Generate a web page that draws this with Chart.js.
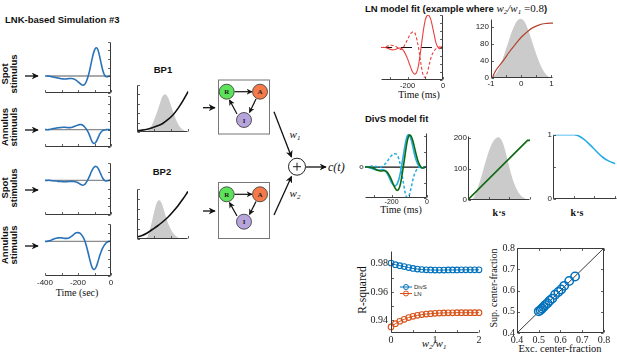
<!DOCTYPE html>
<html><head><meta charset="utf-8">
<script src="https://cdn.jsdelivr.net/npm/chart.js"></script>
<style>
html,body{margin:0;padding:0;background:#fff;width:617px;height:355px;overflow:hidden;position:relative;font-family:'Liberation Sans',Arial,sans-serif;color:#111;}
.t{position:absolute;white-space:nowrap;transform:translate(-50%,-50%);}
.l{position:absolute;white-space:nowrap;transform:translate(0,-50%);}
.b{font-weight:bold;font-size:9.5px;}
.s{font-family:'Liberation Serif','Times New Roman',serif;}
.rot{transform:translate(-50%,-50%) rotate(-90deg);text-align:center;}
.m{font-family:'Liberation Serif','Times New Roman',serif;font-style:italic;}
sub{font-size:7px;vertical-align:-2px;}
canvas{display:block}
</style></head><body>
<svg width="617" height="355" style="position:absolute;left:0;top:0">
<defs>
<marker id="ah" viewBox="0 0 10 10" refX="9" refY="5" markerWidth="7" markerHeight="7" orient="auto" markerUnits="userSpaceOnUse"><path d="M0,0 L10,5 L0,10 L3,5 z" fill="#111"/></marker>
<marker id="ahs" viewBox="0 0 10 10" refX="9" refY="5" markerWidth="6" markerHeight="6" orient="auto" markerUnits="userSpaceOnUse"><path d="M0,0 L10,5 L0,10 L3,5 z" fill="#111"/></marker>
</defs>
<g stroke="#111" stroke-width="1.3" fill="none">
<line x1="25" y1="76" x2="38" y2="76" marker-end="url(#ah)"/>
<line x1="25" y1="130" x2="38" y2="130" marker-end="url(#ah)"/>
<line x1="25" y1="190" x2="38" y2="190" marker-end="url(#ah)"/>
<line x1="25" y1="246" x2="38" y2="246" marker-end="url(#ah)"/>
<line x1="203" y1="107.7" x2="215" y2="107.7" marker-end="url(#ah)"/>
<line x1="203" y1="211" x2="215" y2="211" marker-end="url(#ah)"/>
<line x1="274" y1="111.7" x2="291.5" y2="157" marker-end="url(#ah)"/>
<line x1="274" y1="215" x2="291.5" y2="176.5" marker-end="url(#ah)"/>
<line x1="306" y1="167" x2="326" y2="167" marker-end="url(#ah)"/>
</g>
<rect x="218.5" y="80" width="51" height="54" fill="#fff" stroke="#777" stroke-width="1"/>
<rect x="218.5" y="182.5" width="51" height="56" fill="#fff" stroke="#777" stroke-width="1"/>
<g stroke="#111" stroke-width="1.2" fill="none">
<line x1="234.5" y1="91.7" x2="252" y2="91.7" marker-end="url(#ahs)"/>
<line x1="256" y1="99" x2="249.5" y2="112.5" marker-end="url(#ahs)"/>
<line x1="237" y1="114" x2="229.5" y2="100" marker-end="url(#ahs)"/>
<line x1="234.5" y1="194.3" x2="252" y2="194.3" marker-end="url(#ahs)"/>
<line x1="256" y1="201.6" x2="249.5" y2="214.5" marker-end="url(#ahs)"/>
<line x1="237" y1="216" x2="229.5" y2="202.6" marker-end="url(#ahs)"/>
</g>
<g stroke="#333" stroke-width="0.8">
<circle cx="226.7" cy="91.7" r="7.5" fill="#5de35a"/>
<circle cx="260" cy="91.7" r="7.5" fill="#f47a4a"/>
<circle cx="244" cy="120" r="7.5" fill="#b7a4dc"/>
<circle cx="226.7" cy="194.3" r="7.5" fill="#5de35a"/>
<circle cx="260" cy="194.3" r="7.5" fill="#f47a4a"/>
<circle cx="244" cy="221.7" r="7.5" fill="#b7a4dc"/>
</g>
<g font-family="'Liberation Serif',serif" font-weight="bold" font-size="7" text-anchor="middle" fill="#222">
<text x="226.7" y="94.2">R</text><text x="260" y="94.2">A</text><text x="244" y="122.5">I</text>
<text x="226.7" y="196.8">R</text><text x="260" y="196.8">A</text><text x="244" y="224.2">I</text>
</g>
<circle cx="297" cy="166.7" r="8.5" fill="#fff" stroke="#222" stroke-width="1"/>
<g stroke="#222" stroke-width="1"><line x1="293" y1="166.7" x2="301" y2="166.7"/><line x1="297" y1="162.7" x2="297" y2="170.7"/></g>
</svg>

<div class="l b" style="left:5px;top:19px;">LNK-based Simulation #3</div>
<div class="t b rot" style="left:9px;top:74px;line-height:8.5px;">Spot<br>stimulus</div>
<div class="t b rot" style="left:9px;top:127px;line-height:8.5px;">Annulus<br>stimuuls</div>
<div class="t b rot" style="left:9px;top:188px;line-height:8.5px;">Spot<br>stimulus</div>
<div class="t b rot" style="left:9px;top:245px;line-height:8.5px;">Annulus<br>stimuuls</div>
<div class="t b" style="left:163px;top:69px;">BP1</div>
<div class="t b" style="left:162px;top:171px;">BP2</div>
<div class="t s" style="left:77px;top:292px;font-size:10px;">Time (sec)</div>
<div class="t m" style="left:295px;top:135px;font-size:11px;">w<sub>1</sub></div>
<div class="t m" style="left:295px;top:194px;font-size:11px;">w<sub>2</sub></div>
<div class="l m" style="left:328px;top:167px;font-size:12px;">c(t)</div>

<div class="l" style="left:365px;top:7px;"><span class="b">LN model fit (example where </span><span class="m" style="font-size:11px;"> w<sub>2</sub>/w<sub>1</sub></span><span class="s" style="font-size:11px;"> =0.8</span><span class="b">)</span></div>
<div class="t s" style="left:419px;top:94px;font-size:10px;">Time (ms)</div>
<div class="l b" style="left:365px;top:118px;">DivS model fit</div>
<div class="t s" style="left:401px;top:209px;font-size:10px;">Time (ms)</div>
<div class="t s" style="left:499px;top:212px;font-size:10px;font-weight:bold;">k·s</div>
<div class="t s" style="left:577px;top:212px;font-size:10px;font-weight:bold;">k·s</div>

<div class="t s rot" style="left:362px;top:290px;font-size:11.5px;">R-squared</div>
<div class="t m" style="left:434px;top:344px;font-size:11px;">w<sub>2</sub>/w<sub>1</sub></div>
<div class="t s rot" style="left:493px;top:288px;font-size:10px;">Sup. center-fraction</div>
<div class="t s" style="left:560px;top:348px;font-size:10.5px;">Exc. center-fraction</div>

<svg width="40" height="16" style="position:absolute;left:398px;top:282px;">
<line x1="2" y1="5" x2="14" y2="5" stroke="#0072bd" stroke-width="1"/><circle cx="8" cy="5" r="2.5" fill="none" stroke="#0072bd" stroke-width="1"/>
<line x1="2" y1="11.5" x2="14" y2="11.5" stroke="#d95319" stroke-width="1"/><circle cx="8" cy="11.5" r="2.5" fill="none" stroke="#d95319" stroke-width="1"/>
<text x="16" y="7" font-size="6" font-family="'Liberation Sans',sans-serif" fill="#222">DivS</text>
<text x="16" y="13.5" font-size="6" font-family="'Liberation Sans',sans-serif" fill="#222">LN</text>
</svg>

<script>
// ---------------- DATA ----------------
const filterTime = [-400,-390,-380,-370,-360,-350,-340,-330,-320,-310,-300,-290,-280,-270,-260,-250,-240,-230,-220,-210,-200,-190,-180,-170,-160,-150,-140,-130,-120,-110,-100,-90,-80,-70,-60,-50,-40,-30,-20,-10,0];
const spot1 = [0,0,0,-0.01,-0.02,-0.03,-0.04,-0.05,-0.06,-0.07,-0.08,-0.085,-0.09,-0.085,-0.08,-0.075,-0.075,-0.08,-0.1,-0.13,-0.17,-0.21,-0.25,-0.27,-0.25,-0.17,-0.03,0.15,0.38,0.6,0.76,0.83,0.78,0.6,0.38,0.17,0.03,-0.02,-0.02,0,0];
const annulus1 = [0,0,0,0.01,0.02,0.03,0.04,0.05,0.055,0.06,0.065,0.07,0.07,0.065,0.06,0.06,0.065,0.08,0.1,0.12,0.14,0.15,0.15,0.13,0.08,0.02,-0.06,-0.17,-0.3,-0.39,-0.41,-0.36,-0.26,-0.15,-0.07,-0.03,-0.01,0,0.005,0,0];
const spot2 = [0,0,0,0,-0.01,-0.01,-0.02,-0.02,-0.03,-0.03,-0.035,-0.04,-0.04,-0.04,-0.035,-0.03,-0.03,-0.03,-0.04,-0.05,-0.07,-0.1,-0.13,-0.14,-0.12,-0.06,0.02,0.12,0.24,0.33,0.39,0.4,0.36,0.27,0.16,0.06,0,-0.02,-0.01,0,0];
const annulus2 = [0,0,0.01,0.02,0.04,0.06,0.08,0.09,0.1,0.105,0.1,0.09,0.085,0.085,0.09,0.11,0.14,0.18,0.22,0.245,0.25,0.24,0.2,0.13,0.03,-0.12,-0.3,-0.5,-0.68,-0.79,-0.81,-0.74,-0.6,-0.44,-0.3,-0.19,-0.11,-0.05,-0.01,0,0];
const zeroLeftX = [-390,0];
const zeroY = [0,0];
const leftTimeTicks = [-400,-300,-200,-100,0];

const fitTime = [-350,-340,-330,-320,-310,-300,-290,-280,-270,-260,-250,-240,-230,-220,-210,-200,-190,-180,-170,-160,-150,-140,-130,-120,-110,-100,-90,-80,-70,-60,-50,-40,-30,-20,-10,0];
const lnSolid = [0,0,0,-0.01,-0.03,-0.05,-0.07,-0.07,-0.06,-0.04,-0.02,-0.02,-0.05,-0.12,-0.22,-0.35,-0.5,-0.65,-0.77,-0.82,-0.78,-0.6,-0.25,0.15,0.55,0.85,0.98,0.99,0.88,0.66,0.4,0.15,0.02,-0.04,0.02,0];
const lnDashed = [0,0,0.01,0.03,0.05,0.07,0.07,0.06,0.04,0.01,-0.03,-0.06,-0.04,0.04,0.14,0.25,0.36,0.44,0.48,0.46,0.3,0.05,-0.3,-0.65,-0.88,-0.92,-0.8,-0.58,-0.36,-0.2,-0.1,-0.04,-0.01,0.02,0,0];
const lnZeroX = [-350,0];
const divsGreen = [0,0,0,-0.01,-0.02,-0.04,-0.07,-0.1,-0.12,-0.13,-0.12,-0.12,-0.14,-0.2,-0.3,-0.42,-0.56,-0.68,-0.75,-0.72,-0.55,-0.22,0.15,0.55,0.88,1.03,1.0,0.85,0.62,0.38,0.18,0.05,-0.02,-0.03,0,0];
const divsCyan = [0,0,-0.01,-0.03,-0.05,-0.07,-0.09,-0.1,-0.1,-0.09,-0.08,-0.1,-0.16,-0.26,-0.38,-0.5,-0.58,-0.61,-0.56,-0.42,-0.18,0.15,0.5,0.82,1.02,1.04,0.9,0.66,0.4,0.2,0.07,0,-0.03,-0.02,0,0];
const divsCyanDashed = [0,0,0.01,0.02,0.03,0.03,0.02,0.01,0,0,0.03,0.08,0.14,0.22,0.3,0.37,0.42,0.43,0.4,0.28,0.05,-0.28,-0.62,-0.9,-0.99,-0.9,-0.68,-0.42,-0.22,-0.1,-0.03,0.01,0.02,0.01,0,0];
const divsZeroX = [-350,-40];
const divsMarkerX = [-370];
const divsMarkerY = [0];
const fitTimeTicks = [-300,-200,-100,0];

const bpHistX = [0,0.05,0.1,0.15,0.2,0.25,0.3,0.35,0.4,0.45,0.5,0.55,0.6,0.65,0.7,0.75,0.8,0.85,0.9,0.95,1];
const bp1Hist = [0,0,0,0,0.02,0.08,0.17,0.3,0.45,0.62,0.76,0.8,0.74,0.6,0.44,0.29,0.17,0.09,0.04,0.01,0];
const bp2Hist = [0,0,0,0,0.04,0.18,0.38,0.6,0.75,0.77,0.67,0.5,0.34,0.22,0.13,0.07,0.03,0.01,0,0,0];
const bpCurveX = [0,0.1,0.2,0.3,0.4,0.5,0.6,0.7,0.8,0.9,1];
const bp1Curve = [0.03,0.04,0.06,0.09,0.13,0.18,0.26,0.36,0.5,0.67,0.86];
const bp2Curve = [0.04,0.07,0.12,0.19,0.26,0.34,0.43,0.54,0.66,0.8,0.95];

const lnHistX = [-1,-0.9,-0.8,-0.7,-0.6,-0.5,-0.4,-0.3,-0.2,-0.1,0,0.1,0.2,0.3,0.4,0.5,0.6,0.7,0.8,0.9,1];
const lnHist = [0,5,14,28,47,68,90,110,126,136,138,132,118,98,76,55,36,21,10,3,0];
const lnCurveX = [-0.95,-0.9,-0.8,-0.6,-0.4,-0.2,0,0.2,0.4,0.6,0.8,1,1.05];
const lnCurve = [0,10,22,40,60,78,95,108,118,124,127,128,128];
const lnNonlinXTicks = [-1,-0.5,0,0.5,1];
const lnNonlinYTicks = [0,40,80,120];

const dsHistX = [0,0.05,0.1,0.15,0.2,0.25,0.3,0.35,0.4,0.45,0.5,0.55,0.6,0.65,0.7,0.75,0.8,0.85,0.9,0.95,1];
const dsHist = [0,0,10,35,65,100,135,165,188,200,203,190,160,120,80,50,28,14,6,1,0];
const dsLineX = [0,0.96,1];
const dsLine = [0,193,193];
const dsYTicks = [0,100,200];
const ds2X = [0,0.1,0.2,0.3,0.35,0.4,0.5,0.6,0.7,0.8,0.9,1];
const ds2Y = [1,1,1,1,1,0.99,0.93,0.84,0.74,0.65,0.59,0.55];
const ds2YTicks = [0,0.5,1];

const wRatio = [0,0.1,0.2,0.3,0.4,0.5,0.6,0.7,0.8,0.9,1,1.1,1.2,1.3,1.4,1.5,1.6,1.7,1.8,1.9,2];
const r2DivS = [0.9805,0.9793,0.9786,0.978,0.9773,0.9767,0.9762,0.9759,0.9757,0.9756,0.9755,0.9755,0.9755,0.9756,0.9756,0.9756,0.9757,0.9757,0.9757,0.9757,0.9757];
const r2LN = [0.9353,0.9376,0.9393,0.9407,0.9419,0.9428,0.9435,0.944,0.9444,0.9447,0.9449,0.9451,0.9452,0.9453,0.9453,0.9454,0.9454,0.9454,0.9454,0.9454,0.9454];
const wRatioTicks = [0,0.5,1,1.5,2];
const r2Ticks = [0.94,0.95,0.96,0.97,0.98];

const excFrac = [0.5,0.508,0.515,0.522,0.53,0.54,0.55,0.562,0.575,0.59,0.603,0.617,0.64,0.667];
const supFrac = [0.502,0.508,0.515,0.522,0.532,0.54,0.552,0.562,0.58,0.593,0.605,0.622,0.645,0.666];
const diagX = [0.4,0.8];
const diagY = [0.4,0.8];
const fracTicks = [0.4,0.5,0.6,0.7,0.8];

// ---------------- SETUP ----------------
const SANS = "'Liberation Sans', Arial, sans-serif";
const SERIF = "'Liberation Serif', 'Times New Roman', serif";
Chart.defaults.font.family = SANS;
Chart.defaults.font.size = 8;
Chart.defaults.color = '#333';
Chart.defaults.elements.point.radius = 0;

// axis lines + inward tick marks
const inTicks = {
  id: 'inTicks',
  afterDatasetsDraw(chart, args, o) {
    if (!o || !o.on) return;
    const ctx = chart.ctx, a = chart.chartArea, len = o.len || 2.5;
    const L = Math.round(a.left) + 0.5, R = Math.round(a.right) - 0.5, T = Math.round(a.top) + 0.5, B = Math.round(a.bottom) - 0.5;
    const ys = chart.scales.y, xs = chart.scales.x;
    const yRight = ys.position === 'right';
    ctx.save(); ctx.strokeStyle = '#3a3a3a'; ctx.lineWidth = 1;
    ctx.beginPath();
    ctx.moveTo(L, B); ctx.lineTo(R, B);
    if (yRight || o.frame) { ctx.moveTo(R, T); ctx.lineTo(R, B); }
    if (!yRight || o.frame) { ctx.moveTo(L, T); ctx.lineTo(L, B); }
    if (o.frame) { ctx.moveTo(L, T); ctx.lineTo(R, T); }
    ctx.stroke();
    ctx.lineWidth = 0.8;
    ctx.beginPath();
    xs.ticks.forEach((t, i) => {
      const p = Math.round(xs.getPixelForTick(i)) + 0.5;
      ctx.moveTo(p, B); ctx.lineTo(p, B - len);
      if (o.frame) { ctx.moveTo(p, T); ctx.lineTo(p, T + len); }
    });
    ys.ticks.forEach((t, i) => {
      const p = Math.round(ys.getPixelForTick(i)) + 0.5;
      if (yRight) { ctx.moveTo(R, p); ctx.lineTo(R - len, p); }
      else { ctx.moveTo(L, p); ctx.lineTo(L + len, p); }
      if (o.frame) { ctx.moveTo(R, p); ctx.lineTo(R - len, p); }
    });
    ctx.stroke();
    ctx.restore();
  }
};
Chart.register(inTicks);

function pts(xs, ys) { return xs.map((x, i) => ({ x: x, y: ys[i] })); }
function axisCfg(o, fitFn) {
  const ticks = Object.assign({ display: false, padding: 2, autoSkip: false, maxRotation: 0, color: '#222' }, o.ticks || {});
  const vals = o.tv;
  return {
    type: 'linear', min: o.min, max: o.max,
    grid: { display: false, drawTicks: false },
    border: { display: false },
    ticks: ticks,
    afterBuildTicks: s => { s.ticks = vals.map(v => ({ value: v })); },
    afterFit: fitFn
  };
}
function panel(box, area, datasets, xo, yo, plug) {
  const [bl, bt, bw, bh] = box, [x0, y0, x1, y1] = area;
  const padL = x0 - bl, padT = y0 - bt, padR = bl + bw - x1, padB = bt + bh - y1;
  const c = document.createElement('canvas');
  c.width = bw; c.height = bh;
  c.style.cssText = 'position:absolute;left:' + bl + 'px;top:' + bt + 'px;width:' + bw + 'px;height:' + bh + 'px;';
  document.body.appendChild(c);
  const yRight = yo.position === 'right';
  const x = axisCfg(xo, s => { s.height = padB; }); x.position = 'bottom';
  const y = axisCfg(yo, s => { s.width = yRight ? padR : padL; }); y.position = yRight ? 'right' : 'left';
  return new Chart(c, {
    type: 'line',
    data: { datasets: datasets },
    options: {
      responsive: false, animation: false,
      layout: { autoPadding: false, padding: { top: padT, bottom: 0, left: yRight ? padL : 0, right: yRight ? 0 : padR } },
      scales: { x: x, y: y },
      plugins: { legend: { display: false }, tooltip: { enabled: false }, inTicks: Object.assign({ on: true }, plug || {}) }
    }
  });
}

const BLUE = '#2a72b8', GRAYZ = '#8c8c8c', HIST = '#cbcbcb', RED = '#e8403e', DRED = '#b4442f', GREEN = '#0e6a12', CYAN = '#26ade4';
const line = (xs, ys, color, w, extra) => Object.assign({ data: pts(xs, ys), borderColor: color, borderWidth: w, tension: 0.35, pointRadius: 0, fill: false }, extra || {});
const hist = (xs, ys) => ({ data: pts(xs, ys), borderWidth: 0, borderColor: 'rgba(0,0,0,0)', backgroundColor: HIST, fill: 'origin', tension: 0.35, pointRadius: 0 });
const labX200 = v => (v % 200 === 0 ? String(v) : '');
const labEnds = v => (Math.abs(v) < 1e-9 ? '0' : (Math.abs(v - 1) < 1e-9 ? '1' : ''));
const yTop = [-0.5,-0.25,0,0.25,0.5,0.75,1];
const yBot = [-1,-0.75,-0.5,-0.25,0,0.25,0.5];

// ---- left stimulus filters ----
const leftX = (show) => ({ min: -400, max: 0, tv: leftTimeTicks, ticks: { display: show, callback: labX200, padding: 2 } });
panel([38, 38, 80, 60], [45, 42, 111, 93], [line(filterTime, spot1, BLUE, 1.6), line(zeroLeftX, zeroY, GRAYZ, 1.3)],
  leftX(false), { position: 'right', min: -0.5, max: 1, tv: yTop });
panel([38, 94, 80, 57], [45, 96, 111, 146.5], [line(filterTime, annulus1, BLUE, 1.6), line(zeroLeftX, zeroY, GRAYZ, 1.3)],
  leftX(false), { position: 'right', min: -0.5, max: 1, tv: yTop });
panel([38, 159, 80, 60], [45, 163, 111, 215], [line(filterTime, spot2, BLUE, 1.6), line(zeroLeftX, zeroY, GRAYZ, 1.3)],
  leftX(false), { position: 'right', min: -1, max: 0.5, tv: yBot });
panel([30, 220, 90, 70], [45, 224, 111, 276], [line(filterTime, annulus2, BLUE, 1.6), line(zeroLeftX, zeroY, GRAYZ, 1.3)],
  leftX(true), { position: 'right', min: -1, max: 0.5, tv: yBot });

// ---- bipolar nonlinearities ----
const bpXT = [0, 0.3333, 0.6667, 1], bpYT = [0, 0.2, 0.4, 0.6, 0.8, 1];
panel([132, 80, 60, 56], [137, 84.7, 188.3, 132], [line(bpCurveX, bp1Curve, '#111', 1.6), hist(bpHistX, bp1Hist)],
  { min: 0, max: 1, tv: bpXT }, { min: 0, max: 1, tv: bpYT });
panel([132, 185, 60, 58], [137, 189, 188, 239], [line(bpCurveX, bp2Curve, '#111', 1.6), hist(bpHistX, bp2Hist)],
  { min: 0, max: 1, tv: bpXT }, { min: 0, max: 1, tv: bpYT });

// ---- LN model fit ----
panel([372, 10, 80, 82], [381, 15, 443, 80], [
  line(fitTime, lnSolid, RED, 1.1),
  line(fitTime, lnDashed, RED, 1.1, { borderDash: [3, 2] }),
  line(lnZeroX, zeroY, '#111', 1.2, { borderDash: [11, 9] })
], { min: -350, max: 0, tv: fitTimeTicks, ticks: { display: true, callback: labX200, padding: 1, font: { size: 7.5 } } },
  { position: 'right', min: -1, max: 1, tv: [-1,-0.75,-0.5,-0.25,0,0.25,0.5,0.75,1] });
panel([466, 12, 92, 78], [491, 17, 553, 78], [line(lnCurveX, lnCurve, DRED, 1.2), hist(lnHistX, lnHist)],
  { min: -1, max: 1.05, tv: lnNonlinXTicks, ticks: { display: true, padding: 1, callback: v => (Number.isInteger(v) ? String(v) : '') } },
  { min: 0, max: 138, tv: lnNonlinYTicks, ticks: { display: true, padding: 2, callback: v => String(v) } });

// ---- DivS model fit ----
panel([355, 128, 80, 82], [365, 133, 427, 198], [
  line(fitTime, divsGreen, GREEN, 1.6),
  line(fitTime, divsCyan, CYAN, 1.6),
  line(fitTime, divsCyanDashed, CYAN, 1.5, { borderDash: [3, 2] }),
  line(divsZeroX, zeroY, '#111', 1.2),
  { data: pts(divsMarkerX, divsMarkerY), showLine: false, pointRadius: 1.6, pointBorderColor: '#333', pointBackgroundColor: '#fff', pointBorderWidth: 0.8, clip: false }
], { min: -350, max: 0, tv: fitTimeTicks, ticks: { display: true, callback: labX200, padding: 0, font: { size: 7 } } },
  { position: 'right', min: -1, max: 1.1, tv: [-1,-0.5,0,0.5,1] });
panel([446, 130, 92, 80], [468, 135, 530, 199.7], [line(dsLineX, dsLine, GREEN, 1.6, { tension: 0 }), hist(dsHistX, dsHist)],
  { min: 0, max: 1, tv: bpXT },
  { min: 0, max: 208, tv: dsYTicks, ticks: { display: true, padding: 1, callback: v => String(v) } });
panel([535, 129, 85, 80], [553, 134, 617, 199], [line(ds2X, ds2Y, CYAN, 1.6)],
  { min: 0, max: 1.03, tv: [0, 0.3333, 0.6667, 1] },
  { min: -0.001, max: 1, tv: ds2YTicks, ticks: { display: true, padding: 1, callback: labEnds } });

// ---- R-squared ----
const serifTick = { family: SERIF, size: 10 };
panel([362, 242, 123, 104], [391, 247, 479, 333], [
  line(wRatio, r2DivS, '#0072bd', 1, { tension: 0, pointRadius: 2.8, pointBorderWidth: 1.1, pointBorderColor: '#0072bd', pointBackgroundColor: 'rgba(255,255,255,0)', clip: false }),
  line(wRatio, r2LN, '#d95319', 1, { tension: 0, pointRadius: 2.8, pointBorderWidth: 1.1, pointBorderColor: '#d95319', pointBackgroundColor: 'rgba(255,255,255,0)', clip: false })
], { min: 0, max: 2, tv: wRatioTicks, ticks: { display: true, font: serifTick, padding: 1, callback: v => (Number.isInteger(v) ? String(v) : '') } },
  { min: 0.931, max: 0.989, tv: r2Ticks, ticks: { display: true, font: serifTick, padding: 3,
    callback: v => { const k = Math.round(v * 100); return k % 2 === 0 ? (k / 100).toFixed(2) : ''; } } });

// ---- center-fraction scatter ----
panel([497, 240, 115, 110], [517, 247, 604, 333], [
  { data: pts(excFrac, supFrac), showLine: false, pointRadius: 4.2, pointBorderWidth: 1.5, pointBorderColor: '#0072bd', pointBackgroundColor: 'rgba(255,255,255,0)' },
  line(diagX, diagY, '#222', 0.9, { tension: 0 })
], { min: 0.4, max: 0.8, tv: fracTicks, ticks: { display: true, font: serifTick, padding: 1, callback: v => v.toFixed(1) } },
  { min: 0.4, max: 0.8, tv: fracTicks, ticks: { display: true, font: serifTick, padding: 2, callback: v => v.toFixed(1) } }, { frame: true });
</script>
</body></html>
